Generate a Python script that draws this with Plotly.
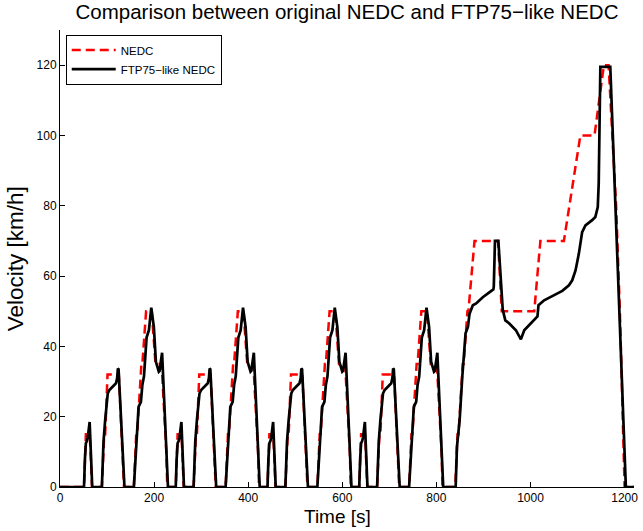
import plotly.graph_objects as go

# ---------------- data ----------------
# NEDC: idle lead-in, 4 x ECE-15 urban cycle, then EUDC (breakpoints, s / km/h)
LEAD_IDLE = 40
ECE_DURATION = 195
N_ECE = 4
ECE_T = [0, 11, 15, 23, 25, 28, 49, 54, 56, 61, 85, 93, 96, 117, 122, 124, 133, 135,
         143, 155, 163, 176, 186, 188, 195]
ECE_V = [0, 0, 15, 15, 10, 0, 0, 15, 15, 32, 32, 10, 0, 0, 15, 15, 35, 35,
         50, 50, 35, 35, 10, 0, 0]
EUDC_T = [0, 20, 25, 27, 36, 38, 46, 48, 61, 111, 119, 188, 201, 251, 286, 316, 336,
          346, 362, 370, 380, 400]
EUDC_V = [0, 0, 15, 15, 35, 35, 50, 50, 70, 70, 50, 50, 70, 70, 100, 100, 120,
          120, 80, 50, 0, 0]

# FTP75-like NEDC, urban cycle relative to cycle start
FTP_URBAN_T = [0, 11, 13, 15, 17, 19, 23, 28.5, 49, 52.5, 56, 61.5, 65, 70, 79, 81.5,
               83, 84.5, 97, 117, 119.6, 123, 127, 132, 135, 138.5, 144, 149, 154,
               159.5, 163.8, 170, 171.5, 177, 178, 189.5, 195]
FTP_URBAN_V = [0, 0, 8, 12.5, 13, 14, 18.5, 0, 0, 12.9, 19, 26.6, 27.6, 28.3, 29.5, 31,
               33.7, 33.5, 0, 0, 6, 11, 22.8, 24.2, 29, 31.5, 42.5, 44.6, 51,
               45.5, 35.6, 32.8, 33, 38.2, 35, 0, 0]
# extra-urban part relative to the EUDC start
FTP_EUDC_T = [0, 21, 23.7, 29.4, 35, 42, 47, 50.5, 57.5, 64.5, 78.6, 89, 101, 102,
              104.5, 111.7, 121, 126.5, 135, 149, 159.6, 166.7, 180.6, 191, 194.8,
              197, 209, 216, 230, 247.6, 261.7, 268.7, 275.7, 282.8, 289.8, 296.8,
              311, 317.8, 323, 325, 327, 328.5, 349.6, 382.7, 400]
FTP_EUDC_V = [0, 0, 11.4, 19, 31.3, 43.7, 45.5, 49.3, 51.7, 52.2, 54, 55, 56.2, 57,
              70, 70, 50.5, 47.4, 46.5, 44.6, 42, 44.6, 46.5, 47.9, 48.5,
              51.7, 53.1, 53.6, 54.5, 55.8, 57.4, 58.8, 61.6, 66.4, 72.5, 74.4,
              75.9, 76.8, 79.6, 86.3, 105.2, 119.5, 119.5, 0, 0]

X_TICKS = [0, 200, 400, 600, 800, 1000, 1200]
Y_TICKS = [0, 20, 40, 60, 80, 100, 120]

# ---------------- assemble series ----------------
def assemble(urban_t, urban_v, eudc_t, eudc_v):
    t, v = [0], [0]
    for k in range(N_ECE):
        start = LEAD_IDLE + k * ECE_DURATION
        t += [start + x for x in urban_t]
        v += list(urban_v)
    start = LEAD_IDLE + N_ECE * ECE_DURATION
    t += [start + x for x in eudc_t]
    v += list(eudc_v)
    return t, v

nedc_t, nedc_v = assemble(ECE_T, ECE_V, EUDC_T, EUDC_V)
ftp_t, ftp_v = assemble(FTP_URBAN_T, FTP_URBAN_V, FTP_EUDC_T, FTP_EUDC_V)

FONT = "Liberation Sans, Arial, Helvetica, sans-serif"

fig = go.Figure()
fig.add_trace(go.Scatter(x=nedc_t, y=nedc_v, mode="lines", name="NEDC",
                         line=dict(color="#ff0000", width=2.5, dash="9px,5px")))
fig.add_trace(go.Scatter(x=ftp_t, y=ftp_v, mode="lines", name="FTP75−like NEDC",
                         line=dict(color="#000000", width=2.7)))

axis_common = dict(showline=True, linecolor="black", linewidth=1, ticks="inside",
                   ticklen=5, tickcolor="black", showgrid=False, zeroline=False,
                   mirror=False, tickfont=dict(family=FONT, size=12, color="black"))

fig.update_layout(
    width=643, height=531, autosize=False,
    margin=dict(l=60, r=5, t=30, b=44),
    paper_bgcolor="white", plot_bgcolor="white",
    font=dict(family=FONT, color="black"),
    title=dict(text="Comparison between original NEDC and FTP75−like NEDC",
               x=0.5, xref="paper", y=1 - 12 / 531, yref="container",
               xanchor="center", yanchor="middle",
               font=dict(family=FONT, size=20.5, color="black")),
    xaxis=dict(range=[0, 1220], tickvals=X_TICKS, **axis_common),
    yaxis=dict(range=[0, 130], tickvals=Y_TICKS, **axis_common),
    legend=dict(x=0.01, y=0.99, xanchor="left", yanchor="top",
                bgcolor="white", bordercolor="black", borderwidth=1,
                font=dict(family=FONT, size=11.5, color="black"),
                itemwidth=44, tracegroupgap=0),
    showlegend=True,
    annotations=[
        dict(text="Time [s]", x=0.484, y=-0.0635, xref="paper", yref="paper",
             xanchor="center", yanchor="middle", showarrow=False,
             font=dict(family=FONT, size=19, color="black")),
        dict(text="Velocity [km/h]", x=-0.077, y=0.5, xref="paper", yref="paper",
             xanchor="center", yanchor="middle", showarrow=False, textangle=-90,
             font=dict(family=FONT, size=22.5, color="black")),
    ],
)

fig.write_html("out.html",
               config={"displayModeBar": False},
               post_script="document.body.style.margin='0';"
                           "document.body.style.padding='0';")
